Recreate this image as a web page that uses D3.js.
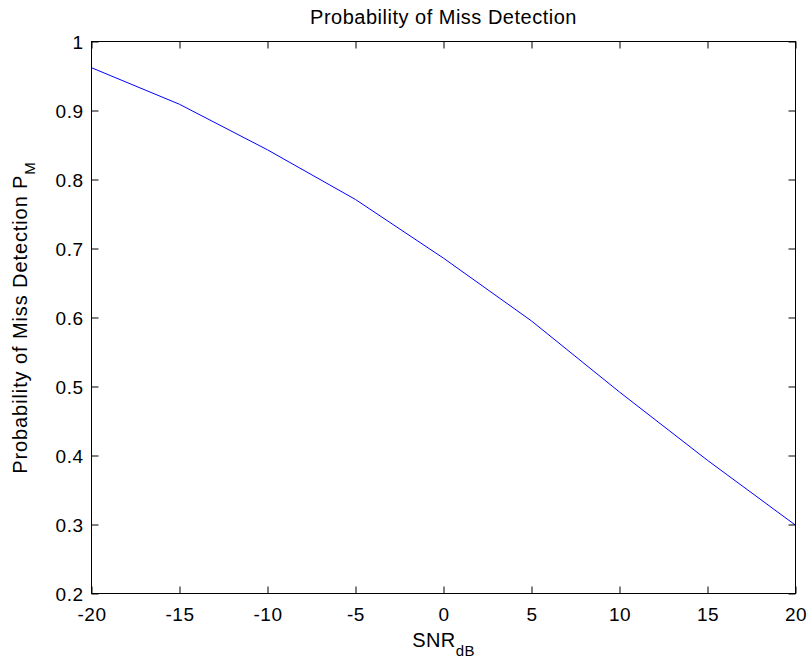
<!DOCTYPE html>
<html><head><meta charset="utf-8">
<script src="https://cdn.jsdelivr.net/npm/d3@7"></script>
<style>body{margin:0;background:#fff}svg{display:block}text{font-family:"Liberation Sans",Arial,sans-serif;fill:#000}</style>
</head><body>
<svg id="c" width="809" height="661"></svg>
<script>
const snrDb = [-20, -15, -10, -5, 0, 5, 10, 15, 20];
const pMiss = [0.962, 0.909, 0.843, 0.771, 0.686, 0.595, 0.492, 0.393, 0.299];
const xTicks = [-20, -15, -10, -5, 0, 5, 10, 15, 20];
const xTickLabels = ["-20","-15","-10","-5","0","5","10","15","20"];
const yTicks = [0.2, 0.3, 0.4, 0.5, 0.6, 0.7, 0.8, 0.9, 1];
const yTickLabels = ["0.2","0.3","0.4","0.5","0.6","0.7","0.8","0.9","1"];

const svg = d3.select("#c");
const L = 91.5, R = 795.5, T = 41.5, B = 593.5;
const x = d3.scaleLinear().domain([-20, 20]).range([L, R]);
const y = d3.scaleLinear().domain([0.2, 1]).range([B, T]);
const fs = 19, tl = 7;

// line
svg.append("path").datum(snrDb.map((d,i)=>[d,pMiss[i]]))
  .attr("fill","none").attr("stroke","#0000ff").attr("stroke-width",1)
  .attr("d", d3.line().x(d=>x(d[0])).y(d=>y(d[1])));

// axes
const xb = d3.axisBottom(x).tickValues(xTicks).tickSizeInner(-tl).tickSizeOuter(0).tickPadding(0).tickFormat((d,i)=>xTickLabels[i]);
const gx = svg.append("g").attr("transform",`translate(0,${B})`).call(xb);
const xt = d3.axisTop(x).tickValues(xTicks).tickSizeInner(-tl).tickSizeOuter(0).tickFormat("");
svg.append("g").attr("transform",`translate(0,${T})`).call(xt);
const yl = d3.axisLeft(y).tickValues(yTicks).tickSizeInner(-tl).tickSizeOuter(0).tickPadding(0).tickFormat((d,i)=>yTickLabels[i]);
const gy = svg.append("g").attr("transform",`translate(${L},0)`).call(yl);
const yr = d3.axisRight(y).tickValues(yTicks).tickSizeInner(-tl).tickSizeOuter(0).tickFormat("");
svg.append("g").attr("transform",`translate(${R},0)`).call(yr);
svg.selectAll(".domain").remove();
svg.selectAll(".tick line").attr("stroke","#000");
svg.selectAll(".tick text").attr("font-size",fs).attr("font-family",'"Liberation Sans",Arial,sans-serif').attr("letter-spacing","0.5px");
gx.selectAll(".tick text").attr("y",27).attr("dy",0);
gy.selectAll(".tick text").attr("x",-8).attr("dy","0.35em");

// box
svg.append("rect").attr("x",L).attr("y",T).attr("width",R-L).attr("height",B-T)
  .attr("fill","none").attr("stroke","#000").attr("stroke-width",1);

// title
svg.append("text").attr("x",(L+R)/2).attr("y",24).attr("text-anchor","middle").attr("font-size",20)
  .attr("letter-spacing","0.5px").text("Probability of Miss Detection");

// x label
const xlab = svg.append("text").attr("x",(L+R)/2).attr("y",647).attr("text-anchor","middle").attr("font-size",20).attr("letter-spacing","0.4px");
xlab.append("tspan").text("SNR");
xlab.append("tspan").attr("dy",9).attr("font-size",15).text("dB");

// y label
const ylab = svg.append("text").attr("transform",`translate(27,${(T+B)/2}) rotate(-90)`).attr("text-anchor","middle").attr("font-size",20).attr("letter-spacing","0.9px");
ylab.append("tspan").text("Probability of Miss Detection P");
ylab.append("tspan").attr("dy",8).attr("font-size",15).text("M");
</script>
</body></html>
